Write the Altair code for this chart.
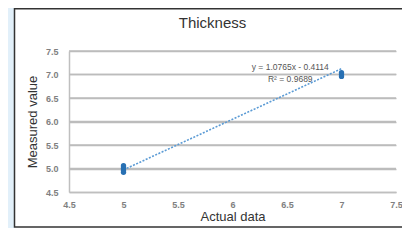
import altair as alt
import pandas as pd

# ---- data ----
actual = [5, 5, 5, 5, 5, 7, 7, 7, 7]
measured = [4.92, 4.96, 5.0, 5.03, 5.06, 6.96, 6.99, 7.01, 7.04]
trend_x = [5, 7]
trend_y = [4.971, 7.124]
x_ticks = [4.5, 5, 5.5, 6, 6.5, 7, 7.5]
y_ticks = [4.5, 5.0, 5.5, 6.0, 6.5, 7.0, 7.5]
eq_text = ["y = 1.0765x - 0.4114", "R\u00b2 = 0.9689"]
eq_x = [6.53, 6.53]
eq_y = [7.17, 6.90]
chart_title = "Thickness"

pts = pd.DataFrame({"actual": actual, "measured": measured})
trend = pd.DataFrame({"actual": trend_x, "measured": trend_y})
eq = pd.DataFrame({"actual": eq_x, "measured": eq_y, "label": eq_text})
grid = pd.DataFrame({"measured": y_ticks[1:], "x0": [4.5] * 6, "x1": [7.5] * 6})
one = pd.DataFrame({"t": [chart_title]})

FONT = "Liberation Sans"
BLUE_BG = "#e2f0fa"

xs = alt.Scale(domain=[4.5, 7.5], nice=False, zero=False)
ys = alt.Scale(domain=[4.5, 7.5], nice=False, zero=False)

x_axis = alt.Axis(values=x_ticks, format=".2~f", grid=False,
                  labelFlush=False, labelOverlap=False, tickCount=7)
y_axis = alt.Axis(values=y_ticks, format=".1f", grid=True, gridColor="#bcbcbc",
                  gridWidth=1.5, gridOpacity=1, labelFlush=False, labelOverlap=False,
                  tickCount=7)
x_enc = alt.X("actual:Q", scale=xs, title="Actual data", axis=x_axis)
y_enc = alt.Y("measured:Q", scale=ys, title="Measured value", axis=y_axis)

W, H = 327, 141
PL, PT, PR, PB = 61, 43, 6, 36

left_strip = alt.Chart(one).mark_rect(fill=BLUE_BG).encode(
    x=alt.value(-PL), x2=alt.value(-54.5), y=alt.value(-PT), y2=alt.value(H + PB)
)
panel = alt.Chart(one).mark_rect(fillOpacity=0, stroke="#333333", strokeWidth=1.5).encode(
    x=alt.value(-54.5), x2=alt.value(W + 40), y=alt.value(-42.2), y2=alt.value(H + PB - 1)
)
title = alt.Chart(one).mark_text(
    font=FONT, fontSize=15, color="#333333", align="center", baseline="middle"
).encode(x=alt.value(143.5), y=alt.value(-28), text="t:N")

gridlines = alt.Chart(grid).mark_rule(
    stroke="#bcbcbc", strokeWidth=1.5, strokeOpacity=1, opacity=1
).encode(
    y=y_enc,
    x=alt.X("x0:Q", scale=xs, axis=x_axis, title="Actual data"),
    x2="x1:Q",
)

line = alt.Chart(trend).mark_line(
    color="#5b9bd5", strokeWidth=1.6, strokeDash=[2, 1.5]
).encode(x=x_enc, y=y_enc)

points = alt.Chart(pts).mark_circle(size=28, color="#2870b3", opacity=1).encode(
    x=x_enc, y=y_enc
)

labels = alt.Chart(eq).mark_text(
    font=FONT, fontSize=8.5, color="#555555", align="center", baseline="middle"
).encode(x=x_enc, y=y_enc, text="label:N")

chart = alt.layer(left_strip, title, gridlines, line, points, labels, panel).properties(
    width=W,
    height=H,
    autosize=alt.AutoSizeParams(type="none"),
    padding={"left": PL, "top": PT, "right": PR, "bottom": PB},
    background="white",
).configure_view(stroke=None).configure_axis(
    labelFont=FONT, labelFontSize=9, labelColor="#808080", labelFontWeight="bold",
    titleFont=FONT, titleFontSize=13, titleFontWeight="normal", titleColor="#333333",
    domainColor="#bfbfbf", domainWidth=1.5,
    ticks=False, tickSize=0,
).configure_axisX(labelPadding=8, titlePadding=1).configure_axisY(
    labelPadding=11, titlePadding=6
)

chart.save("out.html", embed_options={"renderer": "svg", "actions": False})
